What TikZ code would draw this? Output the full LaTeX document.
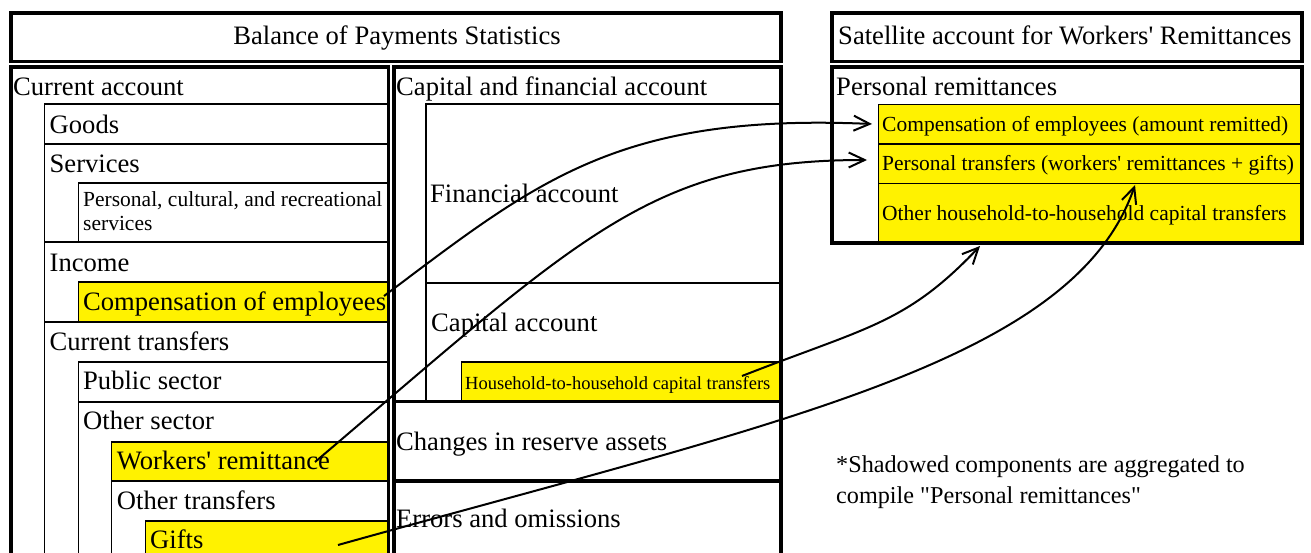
\documentclass[tikz,border=0pt]{standalone}
\usepackage{fontspec}
\setmainfont{Liberation Serif}
\usetikzlibrary{arrows.meta}
\newcommand{\fmain}{\fontsize{26.6bp}{30bp}\selectfont}
\newcommand{\fmed}{\fontsize{21.5bp}{24.5bp}\selectfont}
\newcommand{\fsmall}{\fontsize{18.5bp}{22bp}\selectfont}
\newcommand{\fnote}{\fontsize{24.2bp}{30.6bp}\selectfont}
\newcommand{\ap}{\textquotesingle}
\newcommand{\dq}{\textquotedbl}
\begin{document}
\begin{tikzpicture}[x=1bp,y=-1bp,
  thickbox/.style={line width=3.5bp},
  thinline/.style={line width=1.1bp},
  hl/.style={fill=yellow},
  lbl/.style={anchor=base west, inner sep=0pt, font=\fmain},
  lblmed/.style={anchor=base west, inner sep=0pt, font=\fmed},
  lblsmall/.style={anchor=base west, inner sep=0pt, font=\fsmall},
  lblnote/.style={anchor=base west, inner sep=0pt, font=\fnote},
  conn/.style={line width=2bp, -{Straight Barb[length=16bp,width=15bp,line width=2bp]}}
]
\useasboundingbox (0,0) rectangle (1311,553);
\clip (0,0) rectangle (1311,553);
\fill[white] (0,0) rectangle (1311,553);

% yellow fills
\fill[hl] (78.3,282) rectangle (388,322);
\fill[hl] (111.7,442) rectangle (388,481);
\fill[hl] (145.7,521) rectangle (388,580);
\fill[hl] (461.7,362) rectangle (781,401);
\fill[hl] (878.3,104.3) rectangle (1302,243);

% thin lines, left column
\draw[thinline] (44.3,580) -- (44.3,104) -- (388,104);
\draw[thinline] (44.3,144) -- (388,144);
\draw[thinline] (78.3,242) -- (78.3,183) -- (388,183);
\draw[thinline] (44.3,242) -- (388,242);
\draw[thinline] (78.3,322) -- (78.3,282) -- (388,282);
\draw[thinline] (44.3,322) -- (388,322);
\draw[thinline] (78.3,580) -- (78.3,362) -- (388,362);
\draw[thinline] (78.3,402) -- (388,402);
\draw[thinline] (111.7,580) -- (111.7,442) -- (388,442);
\draw[thinline] (111.7,481) -- (388,481);
\draw[thinline] (145.7,580) -- (145.7,521) -- (388,521);

% thin lines, middle column
\draw[thinline] (426,401) -- (426,104) -- (781,104);
\draw[thinline] (426,283) -- (781,283);
\draw[thinline] (461.7,401) -- (461.7,362) -- (781,362);

% thin lines, right box
\draw[thinline] (878.3,243) -- (878.3,104.3) -- (1302,104.3);
\draw[thinline] (878.3,144) -- (1302,144);
\draw[thinline] (878.3,183.3) -- (1302,183.3);

% thick borders
\draw[thickbox] (11,13) rectangle (781,61.5);
\draw[thickbox] (11,66.8) rectangle (388.5,590);
\draw[thickbox] (393.8,66.8) rectangle (781,590);
\draw[thickbox] (393.8,401.5) -- (781,401.5);
\draw[thickbox] (393.8,481) -- (781,481);
\draw[thickbox] (832,13) rectangle (1302,61.5);
\draw[thickbox] (832,66.8) rectangle (1302,243);

% texts
\node[lbl, anchor=base] (bop) at (397,45) {Balance of Payments Statistics};
\node[lbl] (sat) at (838,45) {Satellite account for Workers\ap{} Remittances};

\node[lbl] (ca) at (13,96) {Current account};
\node[lbl] (goods) at (49.5,133.5) {Goods};
\node[lbl] (serv) at (49.5,173) {Services};
\node[lblmed] (pcr1) at (83,207) {Personal, cultural, and recreational};
\node[lblmed] (pcr2) at (83,231) {services};
\node[lbl] (inc) at (49.5,271.5) {Income};
\node[lbl] (comp) at (83,310.5) {Compensation of employees};
\node[lbl] (ctr) at (49.5,350) {Current transfers};
\node[lbl] (pub) at (83,389.5) {Public sector};
\node[lbl] (oth) at (83,429) {Other sector};
\node[lbl] (wr) at (116.7,469) {Workers\ap{} remittance};
\node[lbl] (otr) at (116.7,509) {Other transfers};
\node[lbl] (gifts) at (150,548) {Gifts};

\node[lbl] (cfa) at (396,96) {Capital and financial account};
\node[lbl] (fa) at (430,202.5) {Financial account};
\node[lbl] (capa) at (431,331) {Capital account};
\node[lblsmall] (hh) at (465,389) {Household-to-household capital transfers};
\node[lbl] (cra) at (396,450) {Changes in reserve assets};
\node[lbl] (eo) at (396,527.5) {Errors and omissions};

\node[lbl] (pr) at (836,96) {Personal remittances};
\node[lblmed] (rc) at (882,131.5) {Compensation of employees (amount remitted)};
\node[lblmed] (rp) at (882,171) {Personal transfers (workers\ap{} remittances + gifts)};
\node[lblmed] (ro) at (882,221) {Other household-to-household capital transfers};

\node[lblnote] (fn1) at (836,472.7) {*Shadowed components are aggregated to};
\node[lblnote] (fn2) at (836,503.3) {compile \dq{}Personal remittances\dq{}};

% connector ends
\coordinate (a1s) at (384,296);
\coordinate (a1e) at (872,124);
\coordinate (a2s) at (315,462);
\coordinate (a2e) at (867,160);
\coordinate (a3s) at (742,376);
\coordinate (a3e) at (980,246);
\coordinate (a4s) at (338,545);
\coordinate (a4e) at (1135,185);

\draw[conn] (a1s) .. controls (537,181) and (618,113) .. (a1e);
\draw[conn] (a2s) .. controls (582,235) and (651,160) .. (a2e);
\draw[conn] (a3s) .. controls (867,327) and (906,324) .. (a3e);
\draw[conn] (a4s) .. controls (782,421) and (1074,362) .. (a4e);
\end{tikzpicture}
\end{document}
